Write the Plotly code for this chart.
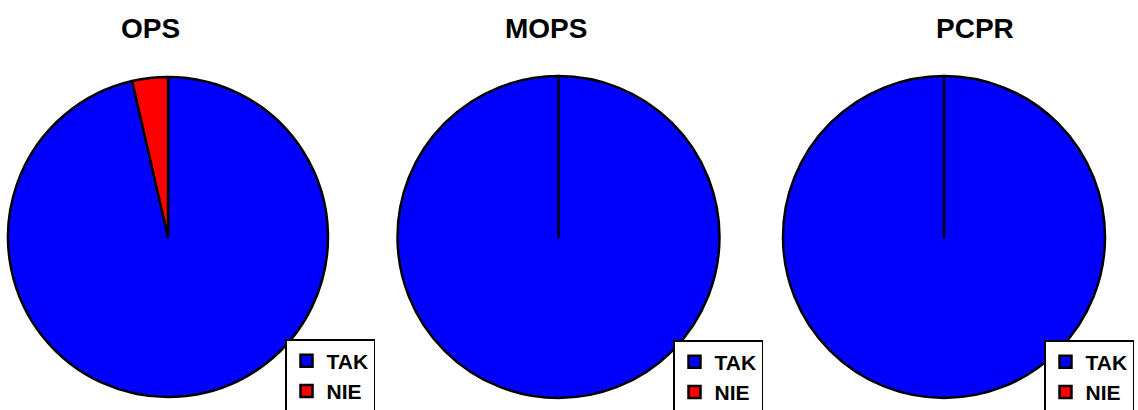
import plotly.graph_objects as go

titles = ["OPS", "MOPS", "PCPR"]
labels = ["TAK", "NIE"]
tak_values = [96.4, 100, 100]
nie_values = [3.6, 0, 0]
colors = ["#0000FF", "#FF0000"]

W, H = 1138, 410
FONT = "Liberation Sans, Arial, sans-serif"

# pie domains in pixels (left, right, top, bottom)
pie_px = [(8, 328, 76, 398), (397, 720, 76, 398), (783, 1105, 76, 398)]
title_px = [150, 546, 975]
legend_px = [(285, 339), (673, 340), (1044, 340)]
legend_names = ["legend", "legend2", "legend3"]

fig = go.Figure()
for i, t in enumerate(titles):
    l, r, tp, b = pie_px[i]
    fig.add_trace(go.Pie(
        labels=labels,
        values=[tak_values[i], nie_values[i]],
        sort=False,
        direction="clockwise",
        rotation=0,
        textinfo="none",
        hoverinfo="label+percent",
        marker=dict(colors=colors, line=dict(color="black", width=2.5)),
        domain=dict(x=[l / W, r / W], y=[1 - b / H, 1 - tp / H]),
        legend=legend_names[i],
        legendgroup="g%d" % i,
        name=t,
    ))
    fig.add_annotation(
        text="<b>%s</b>" % t, x=title_px[i] / W, y=1 - 29 / H,
        xref="paper", yref="paper", showarrow=False,
        xanchor="center", yanchor="middle",
        font=dict(family=FONT, size=28, color="black"),
    )

layout_legends = {}
for i, name in enumerate(legend_names):
    lx, ly = legend_px[i]
    layout_legends[name] = dict(
        x=lx / W, y=1 - ly / H, xanchor="left", yanchor="top",
        bgcolor="white", bordercolor="black", borderwidth=1.5,
        font=dict(family=FONT, size=21, color="black", weight="bold"),
        itemwidth=30,
    )

fig.update_layout(
    width=W, height=H,
    margin=dict(l=0, r=0, t=0, b=0, autoexpand=False),
    paper_bgcolor="white", plot_bgcolor="white",
    showlegend=True,
    **layout_legends,
)

fig.write_html(
    "out.html",
    config={"displayModeBar": False},
    post_script="document.body.style.margin='0';document.body.style.overflow='hidden';",
)
